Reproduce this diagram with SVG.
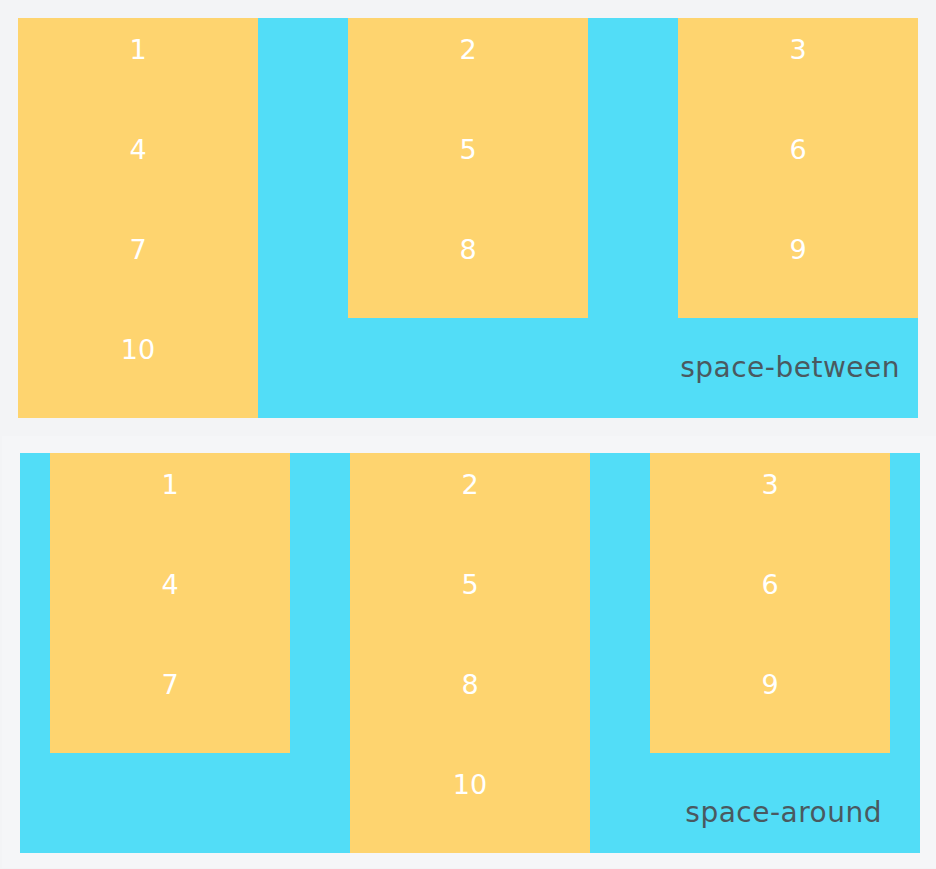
<svg xmlns="http://www.w3.org/2000/svg" width="936" height="869" viewBox="0 0 936 869">
<style>
.bg{fill:#f3f4f6}
.panel{fill:#f5f6f8}
.box{fill:#52ddf7}
.item{fill:#fed46f}
.num{font-family:"DejaVu Sans",sans-serif;font-size:27px;fill:#ffffff;text-anchor:middle}
.lbl{font-family:"DejaVu Sans",sans-serif;font-size:28px;letter-spacing:0.5px;fill:#4a5960;text-anchor:end}
</style>
<rect class="bg" x="0" y="0" width="936" height="869"/>
<rect class="panel" x="2" y="436" width="934" height="432"/>
<g id="space-between">
<rect class="box" x="18" y="18" width="900" height="400"/>
<g id="sb-col1">
<rect class="item" x="18" y="18" width="240" height="400"/>
<text class="num" x="138" y="59">1</text>
<text class="num" x="138" y="159">4</text>
<text class="num" x="138" y="259">7</text>
<text class="num" x="138" y="359">10</text>
</g>
<g id="sb-col2">
<rect class="item" x="348" y="18" width="240" height="300"/>
<text class="num" x="468" y="59">2</text>
<text class="num" x="468" y="159">5</text>
<text class="num" x="468" y="259">8</text>
</g>
<g id="sb-col3">
<rect class="item" x="678" y="18" width="240" height="300"/>
<text class="num" x="798" y="59">3</text>
<text class="num" x="798" y="159">6</text>
<text class="num" x="798" y="259">9</text>
</g>
<text class="lbl" x="900" y="377">space-between</text>
</g>
<g id="space-around">
<rect class="box" x="20" y="453" width="900" height="400"/>
<g id="sa-col1">
<rect class="item" x="50" y="453" width="240" height="300"/>
<text class="num" x="170" y="494">1</text>
<text class="num" x="170" y="594">4</text>
<text class="num" x="170" y="694">7</text>
</g>
<g id="sa-col2">
<rect class="item" x="350" y="453" width="240" height="400"/>
<text class="num" x="470" y="494">2</text>
<text class="num" x="470" y="594">5</text>
<text class="num" x="470" y="694">8</text>
<text class="num" x="470" y="794">10</text>
</g>
<g id="sa-col3">
<rect class="item" x="650" y="453" width="240" height="300"/>
<text class="num" x="770" y="494">3</text>
<text class="num" x="770" y="594">6</text>
<text class="num" x="770" y="694">9</text>
</g>
<text class="lbl" x="882" y="822">space-around</text>
</g>
<g id="connectors"/>
</svg>
